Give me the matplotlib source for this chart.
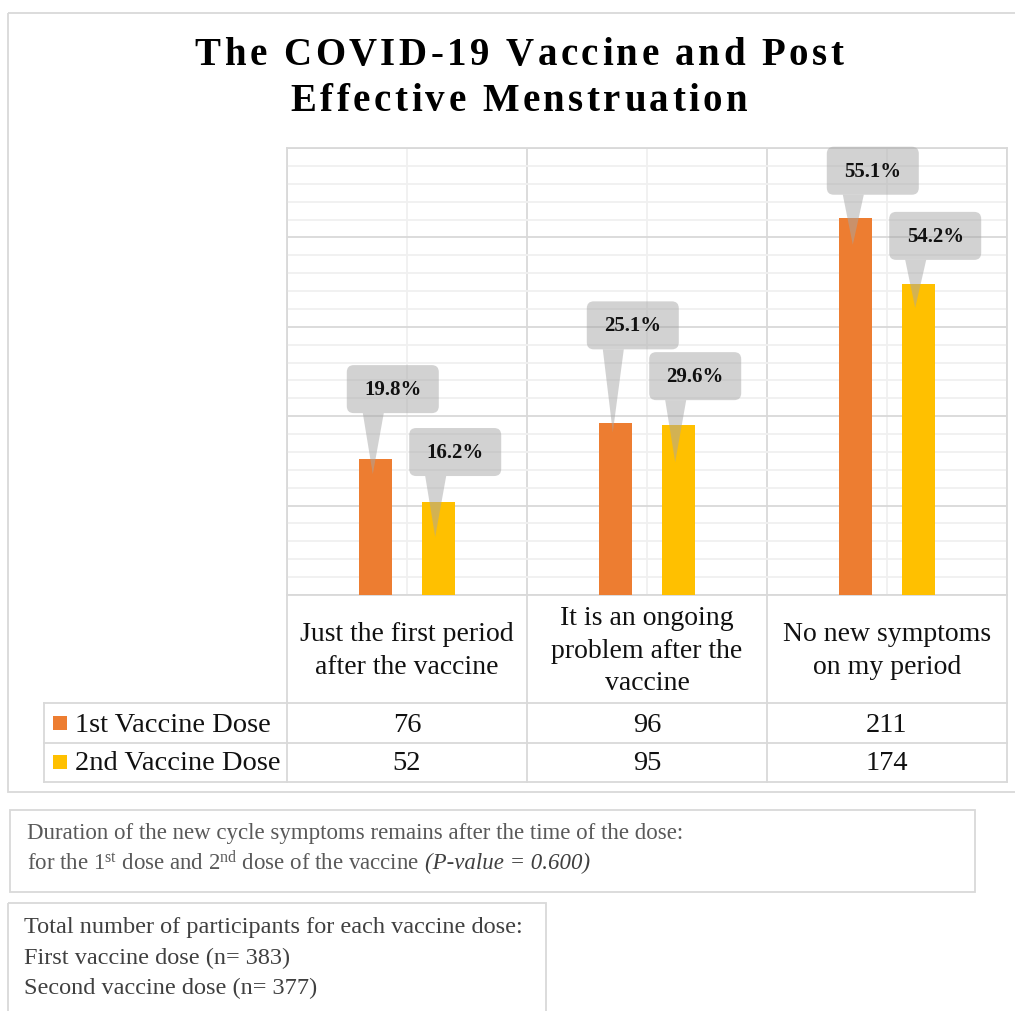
import numpy as np
import matplotlib.pyplot as plt
from matplotlib.patches import FancyBboxPatch, Polygon, Rectangle
from matplotlib.ticker import MultipleLocator, FixedLocator
from matplotlib.font_manager import FontProperties, findfont
from matplotlib.ft2font import FT2Font

plt.rcParams['font.family'] = ['Liberation Serif', 'DejaVu Serif']
plt.rcParams['mathtext.fontset'] = 'custom'
plt.rcParams['mathtext.rm'] = 'Liberation Serif'
plt.rcParams['mathtext.it'] = 'Liberation Serif:italic'

# data
categories = ['Just the first period\nafter the vaccine',
              'It is an ongoing\nproblem after the\nvaccine',
              'No new symptoms\non my period']
series = ['1st Vaccine Dose', '2nd Vaccine Dose']
counts_1st = [76, 96, 211]
counts_2nd = [52, 95, 174]
pct_1st = [19.8, 25.1, 55.1]
pct_2nd = [16.2, 29.6, 54.2]

title_lines = ['The COVID-19 Vaccine and Post', 'Effective Menstruation']
note_line1 = 'Duration of the new cycle symptoms remains after the time of the dose:'
note_line2 = r'for the 1$^{\rm st}$ dose and 2$^{\rm nd}$ dose of the vaccine'
note_pval = '(P-value = 0.600)'
totals = ['Total number of participants for each vaccine dose:',
          'First vaccine dose (n= 383)',
          'Second vaccine dose (n= 377)']

colors = ['#ED7D31', '#FFC000']
grid_c = '#d9d9d9'
W, H = 1015, 1011

fig = plt.figure(figsize=(W / 100, H / 100), dpi=100)
ax = fig.add_axes([287 / W, (H - 595) / H, 720 / W, 447 / H])
ov = fig.add_axes([0, 0, 1, 1], zorder=3)
ov.set_xlim(0, W)
ov.set_ylim(H, 0)
ov.axis('off')
ov.patch.set_visible(False)

# bars
x = np.arange(len(categories))
bw, off = 0.1375, 0.13
ax.bar(x - off, counts_1st, bw, color=colors[0], zorder=3)
ax.bar(x + off, counts_2nd, bw, color=colors[1], zorder=3)
ax.set_xlim(-0.5, 2.5)
ax.set_ylim(0, 250)
ax.yaxis.set_major_locator(MultipleLocator(50))
ax.yaxis.set_minor_locator(MultipleLocator(10))
ax.xaxis.set_major_locator(FixedLocator([-0.5, 0.5, 1.5, 2.5]))
ax.xaxis.set_minor_locator(FixedLocator(x))
ax.grid(which='major', color=grid_c, lw=1.3, zorder=0)
ax.grid(which='minor', color='#f0f0f0', lw=1.3, zorder=0)
ax.tick_params(which='both', length=0, labelbottom=False, labelleft=False)
for sp in ax.spines.values():
    sp.set_color(grid_c)
    sp.set_linewidth(1.3)


def to_px(xv, yv):
    d = ax.transData.transform((xv, yv))
    return ov.transData.inverted().transform(d)


# callouts
rise = [[70, 98, 47], [50, 49, 48]]
depth = [[15, 9, 27], [35, 37, 24]]
for s, (vals, pcts) in enumerate([(counts_1st, pct_1st), (counts_2nd, pct_2nd)]):
    xs = x - off if s == 0 else x + off
    for i in range(len(vals)):
        bx, by = to_px(xs[i], vals[i])
        tx, ty = bx - 3, by + depth[s][i]
        cx, cy = tx + 20, by - rise[s][i]
        ov.add_patch(FancyBboxPatch((cx - 46, cy - 24), 92, 48,
                                    boxstyle='round,pad=0,rounding_size=7',
                                    fc='#a6a6a6', ec='none', alpha=0.5))
        ov.add_patch(Polygon([(tx - 10, cy + 24), (tx + 11, cy + 24), (tx, ty)],
                             closed=True, fc='#a6a6a6', ec='none', alpha=0.5))
        ov.text(cx, cy + 1, f'{pcts[i]}%', ha='center', va='center',
                fontsize=15, fontweight='bold', color='#111111')

# title, drawn char by char to get the wide letter spacing
ov.add_patch(Rectangle((8, 13), 1020, 779, fill=False, ec=grid_c, lw=1.3))
t_size, track = 28, 3.5
ft = FT2Font(findfont(FontProperties(family='Liberation Serif', weight='bold')))
ft.set_size(t_size, 100)
for line, base in zip(title_lines, [65, 111]):
    adv = [ft.load_char(ord(c)).linearHoriAdvance / 65536 for c in line]
    total = sum(adv) + track * (len(line) - 1)
    xp = 519 - total / 2
    for c, a in zip(line, adv):
        ov.text(xp, base, c, ha='left', va='baseline', fontsize=t_size,
                fontweight='bold', color='black')
        xp += a + track

# data table
for xc in [287, 527, 767, 1007]:
    ov.plot([xc, xc], [595, 782], color=grid_c, lw=1.3)
ov.plot([44, 44], [703, 782], color=grid_c, lw=1.3)
for yr in [703, 743, 782]:
    ov.plot([44, 1007], [yr, yr], color=grid_c, lw=1.3)

col_c = [407, 647, 887]
for i, cat in enumerate(categories):
    ov.text(col_c[i], 651, cat, ha='center', va='center', fontsize=20,
            linespacing=1.38, color='#111111')
row_y = [723, 762]
for r, vals in enumerate([counts_1st, counts_2nd]):
    ov.add_patch(Rectangle((53, row_y[r] - 7), 14, 14, fc=colors[r], ec='none'))
    ov.text(75, row_y[r] + 2, series[r], ha='left', va='center', fontsize=20.5,
            color='#111111')
    for i, v in enumerate(vals):
        ov.text(col_c[i], row_y[r] + 2, str(v), ha='center', va='center',
                fontsize=20.5, color='#111111')

# note boxes
ov.add_patch(Rectangle((10, 810), 965, 82, fill=False, ec=grid_c, lw=1.3))
ov.text(27, 833, note_line1, ha='left', va='center', fontsize=16.5, color='#595959')
t2 = ov.text(27, 863, note_line2, ha='left', va='center', fontsize=16.5,
             color='#595959')
fig.canvas.draw()
ext = t2.get_window_extent()
x_end = ov.transData.inverted().transform((ext.x1, ext.y0))[0]
ov.text(x_end + 6, 863, note_pval, ha='left', va='center', fontsize=16.5,
        style='italic', color='#404040')

ov.add_patch(Rectangle((8, 903), 538, 120, fill=False, ec=grid_c, lw=1.3))
for k, line in enumerate(totals):
    ov.text(24, 928 + 30 * k, line, ha='left', va='center', fontsize=17.5,
            color='#404040')

fig.savefig('out.png', dpi=100)
